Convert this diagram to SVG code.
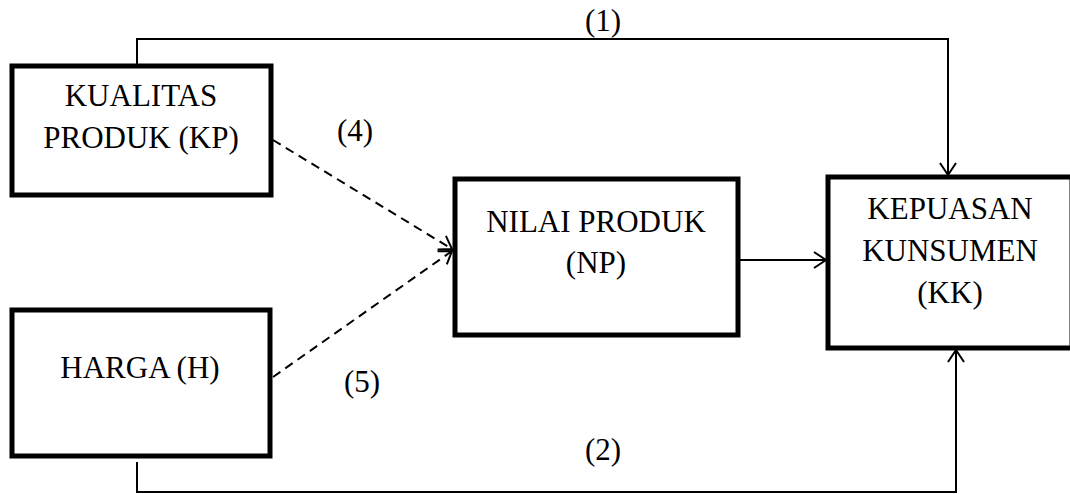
<svg xmlns="http://www.w3.org/2000/svg" width="1070" height="494" viewBox="0 0 1070 494">
<style>
.box{fill:#fff;stroke:#000;stroke-width:5}
.t{font-family:"Liberation Serif","Times New Roman",serif;font-size:31px;fill:#000;text-anchor:middle}
.c{fill:none;stroke:#000;stroke-width:2}
.d{stroke-dasharray:9,6}
</style>
<defs>
<marker id="a" markerUnits="userSpaceOnUse" markerWidth="20" markerHeight="20" refX="14" refY="9" orient="auto" viewBox="0 0 20 18">
<path d="M2,1 L14,9 L2,17" fill="none" stroke="#000" stroke-width="2"/>
</marker>
</defs>
<g id="connectors">
<path class="c" d="M137,64 V39 H948 V175" marker-end="url(#a)"/>
<path class="c" d="M137,462 V492 H956 V350" marker-end="url(#a)"/>
<path class="c" d="M740,260 H826" marker-end="url(#a)"/>
<path class="c d" d="M273,140 L452,249" marker-end="url(#a)"/>
<path class="c d" d="M273,377 L452,251" marker-end="url(#a)"/>
<text class="t" x="603" y="31">(1)</text>
<text class="t" x="603" y="460">(2)</text>
<text class="t" x="355" y="141">(4)</text>
<text class="t" x="362" y="392">(5)</text>
</g>
<g id="kp">
<rect class="box" x="12" y="66" width="259" height="129"/>
<text class="t" x="141" y="106">KUALITAS</text>
<text class="t" x="141" y="148">PRODUK (KP)</text>
</g>
<g id="h">
<rect class="box" x="12" y="310" width="258" height="146"/>
<text class="t" x="140" y="378">HARGA (H)</text>
</g>
<g id="np">
<rect class="box" x="455" y="179" width="283" height="156"/>
<text class="t" x="596" y="232">NILAI PRODUK</text>
<text class="t" x="596" y="273">(NP)</text>
</g>
<g id="kk">
<rect class="box" x="828" y="177" width="244" height="171"/>
<text class="t" x="950" y="219">KEPUASAN</text>
<text class="t" x="950" y="261">KUNSUMEN</text>
<text class="t" x="950" y="303">(KK)</text>
</g>
</svg>
